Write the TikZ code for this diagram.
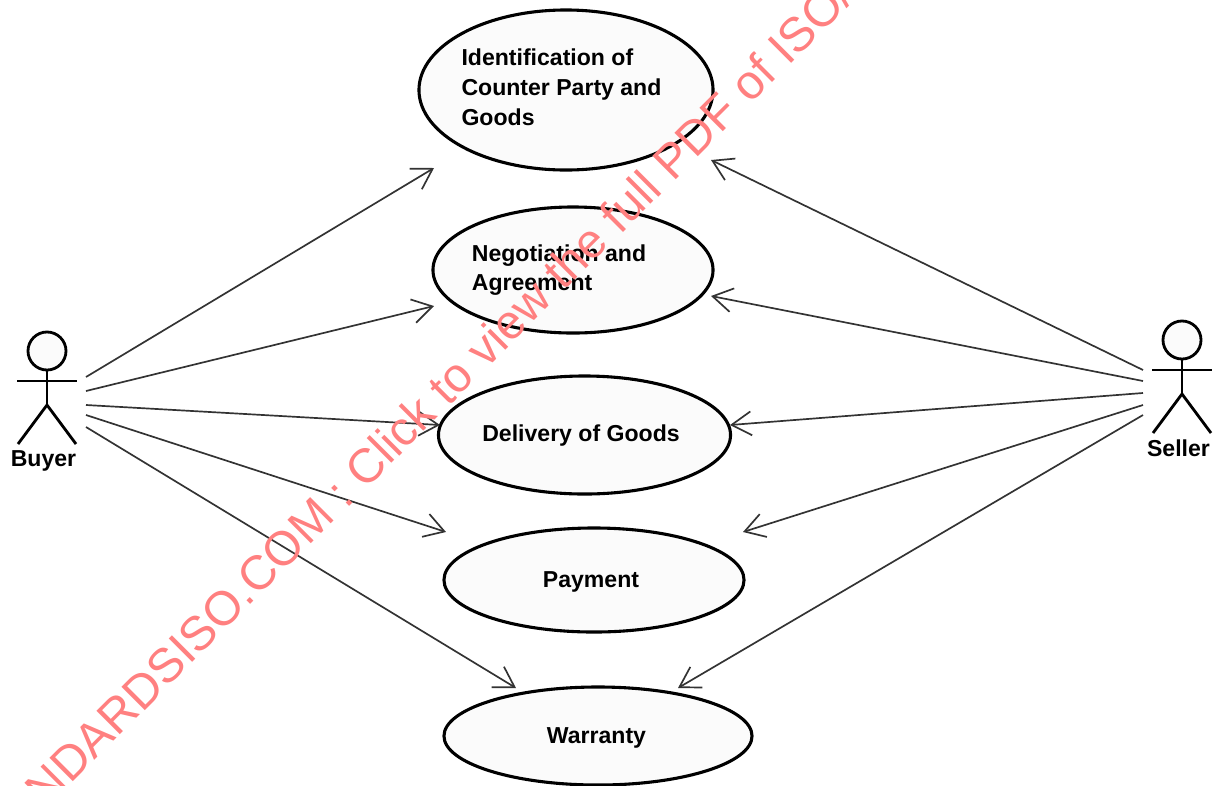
\documentclass[tikz,border=0pt]{standalone}
\usepackage{fontspec}
\setmainfont{Liberation Sans}
\usepackage{xcolor}
\usetikzlibrary{arrows.meta, shapes.geometric}
\definecolor{stampred}{HTML}{FF8080}
\definecolor{casefill}{HTML}{FBFBFB}
\definecolor{linkgray}{HTML}{333333}
\tikzset{
	usecase/.style={draw=black, fill=casefill, ellipse, line width=2.2pt, inner sep=0pt},
	casetext/.style={font=\fontsize{16.4}{21.2}\selectfont\bfseries, align=left, inner sep=0pt},
	actorline/.style={draw=black, line width=2pt},
	link/.style={-{Straight Barb[length=14pt,width=17pt,line width=1.2pt]}, draw=linkgray, line width=1.2pt}
}

\begin{document}
\begin{tikzpicture}[x=0.025cm, y=-0.025cm]
	\useasboundingbox (0,0) rectangle (1218,785);
	\clip (0,0) rectangle (1218,785);

	% use cases
	\node[usecase, minimum width=7.35cm, minimum height=4cm] (identification) at (566,90) {};
	\node[usecase, minimum width=7cm, minimum height=3.15cm] (negotiation) at (573,270) {};
	\node[usecase, minimum width=7.3cm, minimum height=2.95cm] (delivery) at (584.5,435) {};
	\node[usecase, minimum width=7.5cm, minimum height=2.6cm] (payment) at (594,580) {};
	\node[usecase, minimum width=7.7cm, minimum height=2.45cm] (warranty) at (598,736) {};

	\node[casetext] (identificationtext) at (561.5,87.5) {Identification of\\Counter Party and\\Goods};
	\node[casetext] (negotiationtext) at (559,270) {Negotiation and\\Agreement};
	\node[casetext] (deliverytext) at (581,436) {Delivery of Goods};
	\node[casetext] (paymenttext) at (591,582) {Payment};
	\node[casetext] (warrantytext) at (596.5,738) {Warranty};

	% buyer
	\node[actorline, circle, fill=casefill, minimum size=0.95cm, inner sep=0pt] (buyerhead) at (47,351) {};
	\coordinate (buyerhip) at (47,405);
	\draw[actorline] (buyerhead.south) -- (buyerhip);
	\draw[actorline] (17,381) -- (77,381);
	\draw[actorline] (18,444) -- (buyerhip) -- (76,444);
	\node[casetext] (buyer) at (43.5,461) {Buyer};

	% seller
	\node[actorline, circle, fill=casefill, minimum size=0.95cm, inner sep=0pt] (sellerhead) at (1182,340) {};
	\coordinate (sellerhip) at (1182,394);
	\draw[actorline] (sellerhead.south) -- (sellerhip);
	\draw[actorline] (1152,370) -- (1212,370);
	\draw[actorline] (1153,433) -- (sellerhip) -- (1211,433);
	\node[casetext] (seller) at (1178.5,448) {Seller};

	% link ends
	\coordinate (b1) at (86,377);
	\coordinate (b2) at (86,391);
	\coordinate (b3) at (86,405);
	\coordinate (b4) at (86,415);
	\coordinate (b5) at (86,427);
	\coordinate (s1) at (1143,370);
	\coordinate (s2) at (1143,381);
	\coordinate (s3) at (1143,393);
	\coordinate (s4) at (1143,405);
	\coordinate (s5) at (1143,415);
	\coordinate (bt1) at (434,168);
	\coordinate (bt2) at (434,306);
	\coordinate (bt3) at (440,425);
	\coordinate (bt4) at (446,532);
	\coordinate (bt5) at (516,688);
	\coordinate (st1) at (711,160);
	\coordinate (st2) at (711,296);
	\coordinate (st3) at (730,425);
	\coordinate (st4) at (743,532);
	\coordinate (st5) at (678,688);

	\foreach \i in {1,...,5} {
		\draw[link] (b\i) -- (bt\i);
		\draw[link] (s\i) -- (st\i);
	}

	% stamp over everything
	\node[text=stampred, font=\fontsize{34.2}{35}\selectfont, rotate=45, inner sep=0pt] (stamp) at (439,392) {NDARDSISO.COM : Click to view the full PDF of ISO/};
\end{tikzpicture}
\end{document}
